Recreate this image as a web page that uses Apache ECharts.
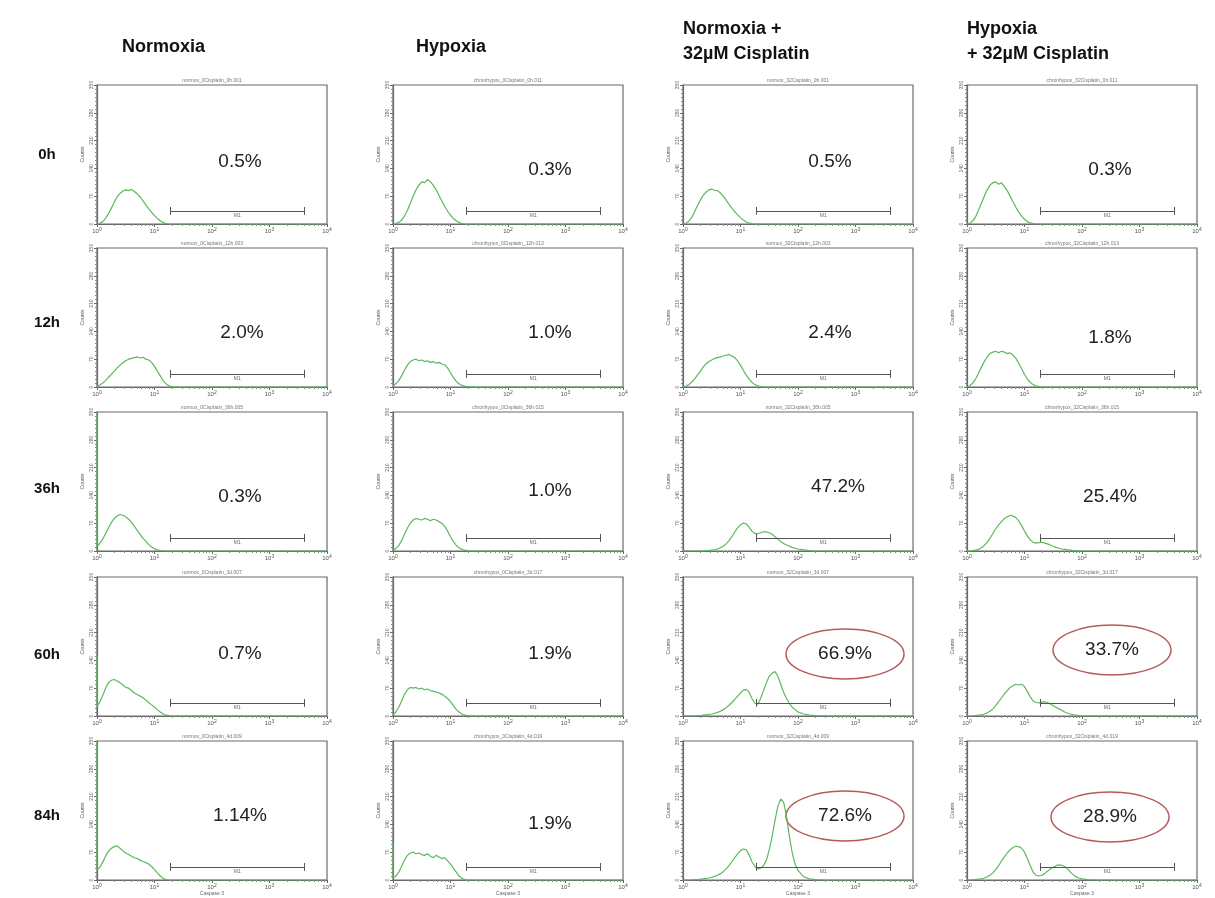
<!DOCTYPE html>
<html>
<head>
<meta charset="utf-8">
<script src="https://cdn.jsdelivr.net/npm/echarts@6/dist/echarts.min.js"></script>
<style>
  html, body { margin: 0; padding: 0; background: #fff; }
  #main { width: 1215px; height: 898px; }
</style>
</head>
<body>
<div id="main"></div>
<script>
// fluorescence channels (log scale, 10^0 .. 10^4)
const ch = [1, 1.12, 1.26, 1.41, 1.58, 1.78, 2.0, 2.24, 2.51, 2.82,
    3.16, 3.55, 3.98, 4.47, 5.01, 5.62, 6.31, 7.08, 7.94, 8.91,
    10, 11.2, 12.6, 14.1, 15.8, 17.8, 20.0, 22.4, 25.1, 28.2,
    31.6, 35.5, 39.8, 44.7, 50.1, 56.2, 63.1, 70.8, 79.4, 89.1,
    100, 126, 158, 200, 316, 1000, 10000];

const times = ['0h', '12h', '36h', '60h', '84h'];
const conditions = ['Normoxia', 'Hypoxia', 'Normoxia +\n32µM Cisplatin', 'Hypoxia\n+ 32µM Cisplatin'];
const fileTags = ['normox_0Cisplatin', 'chronhypox_0Cisplatin', 'normox_32Cisplatin', 'chronhypox_32Cisplatin'];
const timeTags = ['0h', '12h', '36h', '3d', '4d'];

// percent of cells inside the M1 gate
const pctNormoxia = ['0.5%', '2.0%', '0.3%', '0.7%', '1.14%'];
const pctHypoxia = ['0.3%', '1.0%', '1.0%', '1.9%', '1.9%'];
const pctNormoxiaCis = ['0.5%', '2.4%', '47.2%', '66.9%', '72.6%'];
const pctHypoxiaCis = ['0.3%', '1.8%', '25.4%', '33.7%', '28.9%'];
const circledNormoxiaCis = [false, false, false, true, true];
const circledHypoxiaCis = [false, false, false, true, true];

// events piled up in the first channel (drawn on the 10^0 edge)
const firstBinNormoxia = [0, 0, 400, 150, 400];
const firstBinHypoxia = [0, 0, 0, 0, 95];
const firstBinNormoxiaCis = [0, 0, 0, 0, 0];
const firstBinHypoxiaCis = [0, 0, 0, 0, 0];

// M1 gate
const gateFrom = 19;
const gateTo = 4000;
const gateY = 33;

// counts per channel, Normoxia
const normox_0h  = [0,2,6,14,26,40,55,68,77,83, 86,84,87,82,76,68,58,48,38,29, 21,14,8,4,1,0,0,0,0,0, 0,0,0,0,0,0,0,0,0,0, 0,0,0,0,0,0,0];
const normox_12h = [2,5,10,16,24,32,40,48,55,61, 66,70,72,74,76,73,75,70,68,62, 52,40,28,16,8,3,1,0,0,0, 0,0,0,0,0,0,0,0,0,0, 0,0,0,0,0,0,0];
const normox_36h = [10,20,30,44,58,72,82,88,92,90, 86,80,72,62,52,42,32,24,16,10, 6,3,1,0,0,0,0,0,0,0, 0,0,0,0,0,0,0,0,0,0, 0,0,0,0,0,0,0];
const normox_60h = [25,35,52,70,84,90,92,88,84,78, 72,70,64,58,54,50,46,40,34,28, 22,16,10,5,2,1,0,0,0,0, 0,0,0,0,0,0,0,0,0,0, 0,0,0,0,0,0,0];
const normox_84h = [25,32,45,60,72,80,84,86,80,74, 68,64,60,56,54,50,46,44,40,34, 26,18,10,4,1,0,0,0,0,0, 0,0,0,0,0,0,0,0,0,0, 0,0,0,0,0,0,0];

// Hypoxia
const hypox_0h  = [0,1,4,10,20,34,52,70,86,98, 106,104,112,106,98,86,72,58,44,32, 22,14,8,4,1,0,0,0,0,0, 0,0,0,0,0,0,0,0,0,0, 0,0,0,0,0,0,0];
const hypox_12h = [3,8,16,28,42,55,64,68,70,66, 68,64,66,62,64,60,62,58,56,48, 36,24,14,8,4,2,1,0,0,0, 0,0,0,0,0,0,0,0,0,0, 0,0,0,0,0,0,0];
const hypox_36h = [2,6,14,26,42,58,70,78,82,80, 78,82,80,76,80,78,74,70,62,50, 36,24,14,8,4,2,1,0,0,0, 0,0,0,0,0,0,0,0,0,0, 0,0,0,0,0,0,0];
const hypox_60h = [3,10,22,38,54,66,72,70,72,68, 70,66,68,64,62,60,58,55,50,44, 36,26,16,10,5,2,1,0,0,0, 0,0,0,0,0,0,0,0,0,0, 0,0,0,0,0,0,0];
const hypox_84h = [5,10,20,34,50,62,68,70,66,68, 64,62,66,60,56,62,58,54,56,48, 40,30,20,10,4,1,0,0,0,0, 0,0,0,0,0,0,0,0,0,0, 0,0,0,0,0,0,0];

// Normoxia + 32µM Cisplatin
const normoxCis_0h  = [0,2,7,16,30,46,60,72,80,86, 88,85,84,78,70,60,50,40,31,23, 16,10,5,2,1,0,0,0,0,0, 0,0,0,0,0,0,0,0,0,0, 0,0,0,0,0,0,0];
const normoxCis_12h = [0,2,6,12,20,30,40,50,58,64, 68,72,74,76,78,80,82,78,74,66, 55,42,30,20,12,6,3,1,0,0, 0,0,0,0,0,0,0,0,0,0, 0,0,0,0,0,0,0];
const normoxCis_36h = [0,0,0,0,0,0,0,0,1,1, 2,3,5,8,12,18,26,36,48,58, 66,70,68,60,50,44,44,46,48,48, 46,42,36,30,24,19,15,12,9,7, 5,3,1,0,0,0,0];
const normoxCis_60h = [0,0,0,0,0,1,1,2,3,4, 5,7,9,12,16,21,27,34,42,50, 58,65,67,60,44,32,30,44,64,84, 100,108,112,100,80,60,44,32,22,16, 10,5,2,1,0,0,0];
const normoxCis_84h = [0,0,0,0,1,1,2,3,4,5, 7,9,12,16,21,28,36,46,56,66, 74,78,76,64,46,34,28,30,36,50, 76,110,150,186,204,196,160,110,68,40, 24,8,3,1,0,0,0];

// Hypoxia + 32µM Cisplatin
const hypoxCis_0h  = [0,2,8,18,34,52,70,86,98,104, 106,100,104,94,84,70,56,42,30,20, 12,6,3,1,0,0,0,0,0,0, 0,0,0,0,0,0,0,0,0,0, 0,0,0,0,0,0,0];
const hypoxCis_12h = [0,3,10,20,34,50,64,76,84,88, 90,86,90,88,84,86,80,72,60,46, 32,20,12,6,3,1,0,0,0,0, 0,0,0,0,0,0,0,0,0,0, 0,0,0,0,0,0,0];
const hypoxCis_36h = [0,0,1,2,4,8,14,22,32,44, 56,66,74,82,86,90,88,84,76,64, 50,38,28,22,20,21,22,20,18,15, 12,9,7,5,4,3,2,1,1,0, 0,0,0,0,0,0,0];
const hypoxCis_60h = [0,0,0,1,2,3,5,8,12,18, 26,36,46,56,64,72,76,80,78,80, 74,62,48,38,34,33,35,36,34,30, 26,22,18,14,10,7,5,3,2,1, 0,0,0,0,0,0,0];
const hypoxCis_84h = [0,0,0,1,2,3,5,8,12,18, 26,36,48,58,68,76,82,85,84,80, 70,54,36,20,12,10,12,16,22,28, 32,36,38,37,34,28,20,13,8,5, 3,1,0,0,0,0,0];

const counts = [
    [normox_0h, hypox_0h, normoxCis_0h, hypoxCis_0h],
    [normox_12h, hypox_12h, normoxCis_12h, hypoxCis_12h],
    [normox_36h, hypox_36h, normoxCis_36h, hypoxCis_36h],
    [normox_60h, hypox_60h, normoxCis_60h, hypoxCis_60h],
    [normox_84h, hypox_84h, normoxCis_84h, hypoxCis_84h]
];
const firstBins = [firstBinNormoxia, firstBinHypoxia, firstBinNormoxiaCis, firstBinHypoxiaCis];
const pcts = [pctNormoxia, pctHypoxia, pctNormoxiaCis, pctHypoxiaCis];
const circled = [[], [], circledNormoxiaCis, circledHypoxiaCis];

// layout (pixels)
const colLeft = [97, 393, 683, 967];
const colWidth = 230;
const rowTop = [85, 248, 412, 577, 741];
const rowHeight = 139;
const pctPos = [
    [[240, 162], [550, 170], [830, 162], [1110, 170]],
    [[242, 333], [550, 333], [830, 333], [1110, 338]],
    [[240, 497], [550, 491], [838, 487], [1110, 497]],
    [[240, 654], [550, 654], [845, 654], [1112, 650]],
    [[240, 816], [550, 824], [845, 816], [1110, 817]]
];
const headerPos = [[122, 47], [416, 47], [683, 42], [967, 42]];
const rowLabelTop = [155, 323, 489, 655, 816];

const FONT = '"Liberation Sans", Arial, sans-serif';
const green = '#5cb85c';
const axisGrey = '#6a6a6a';

const chart = echarts.init(document.getElementById('main'));

const grid = [], xAxis = [], yAxis = [], series = [], graphic = [];

times.forEach((t, r) => {
    conditions.forEach((cond, c) => {
        const idx = grid.length;
        const last = r === times.length - 1;
        grid.push({
            left: colLeft[c], top: rowTop[r], width: colWidth, height: rowHeight,
            show: true, borderColor: axisGrey, borderWidth: 1.2, backgroundColor: '#fff'
        });
        xAxis.push({
            gridIndex: idx, type: 'log', logBase: 10, min: 1, max: 10000,
            name: last ? 'Caspase 3' : '', nameLocation: 'middle', nameGap: 9,
            nameTextStyle: { fontSize: 5, color: '#666', fontFamily: FONT },
            axisLine: { lineStyle: { color: axisGrey, width: 1.2 } },
            axisTick: { length: 3, lineStyle: { color: axisGrey } },
            minorTick: { show: true, splitNumber: 9, length: 2, lineStyle: { color: '#888' } },
            splitLine: { show: false },
            axisLabel: {
                fontSize: 6, color: '#555', margin: 3, fontFamily: FONT,
                formatter: v => '10{s|' + Math.round(Math.log10(v)) + '}',
                rich: { s: { fontSize: 5, verticalAlign: 'top', padding: [0, 0, 4, 0] } }
            }
        });
        yAxis.push({
            gridIndex: idx, type: 'value', min: 0, max: 350, interval: 70,
            name: 'Counts', nameLocation: 'middle', nameGap: 12,
            nameTextStyle: { fontSize: 5, color: '#555', fontFamily: FONT },
            axisLine: { show: true, lineStyle: { color: axisGrey, width: 1.2 } },
            axisTick: { show: true, length: 3, lineStyle: { color: axisGrey } },
            minorTick: { show: true, splitNumber: 7, length: 2, lineStyle: { color: '#888' } },
            splitLine: { show: false },
            axisLabel: { fontSize: 5, color: '#666', rotate: 90, margin: 3, fontFamily: FONT }
        });
        const pts = ch.map((x, k) => [x, counts[r][c][k]]);
        if (firstBins[c][r] > 0) pts.unshift([ch[0], firstBins[c][r]]);
        series.push({
            type: 'line', xAxisIndex: idx, yAxisIndex: idx,
            data: pts,
            symbol: 'none', clip: true, silent: true,
            lineStyle: { color: green, width: 1.2 },
            markLine: {
                silent: true, symbol: 'none', animation: false,
                lineStyle: { color: '#555', width: 1, type: 'solid' },
                label: { show: false },
                data: [
                    [{ coord: [gateFrom, gateY], label: { show: true, formatter: 'M1', position: 'insideMiddleBottom', fontSize: 5, color: '#666', distance: 2 } },
                     { coord: [gateTo, gateY] }],
                    [{ coord: [gateFrom, gateY - 10] }, { coord: [gateFrom, gateY + 10] }],
                    [{ coord: [gateTo, gateY - 10] }, { coord: [gateTo, gateY + 10] }]
                ]
            }
        });
        // file name above panel
        graphic.push({
            type: 'text', x: colLeft[c] + colWidth / 2, y: rowTop[r] - 4,
            style: { text: fileTags[c] + '_' + timeTags[r] + '.0' + (c % 2 ? 11 + 2 * r : 1 + 2 * r).toString().padStart(2, '0'),
                     font: '5px ' + FONT, fill: '#777', align: 'center', verticalAlign: 'middle' }
        });
        const p = pctPos[r][c];
        graphic.push({
            type: 'text', x: p[0], y: p[1],
            style: { text: pcts[c][r], font: '19px ' + FONT, fill: '#222', align: 'center', verticalAlign: 'middle' }
        });
        if (circled[c][r]) {
            graphic.push({
                type: 'ellipse', shape: { cx: p[0], cy: p[1], rx: 59, ry: 25 },
                style: { fill: 'none', stroke: '#b55a5a', lineWidth: 1.5 }
            });
        }
    });
});

conditions.forEach((cond, c) => {
    graphic.push({
        type: 'text', x: headerPos[c][0], y: headerPos[c][1],
        style: { text: cond, font: 'bold 18px ' + FONT, fill: '#111', align: 'left', verticalAlign: 'middle', lineHeight: 25 }
    });
});
times.forEach((t, r) => {
    graphic.push({
        type: 'text', x: 47, y: rowLabelTop[r],
        style: { text: t, font: 'bold 15px ' + FONT, fill: '#111', align: 'center', verticalAlign: 'middle' }
    });
});

chart.setOption({
    animation: false,
    backgroundColor: '#fff',
    grid, xAxis, yAxis, series, graphic
});
</script>
</body>
</html>
